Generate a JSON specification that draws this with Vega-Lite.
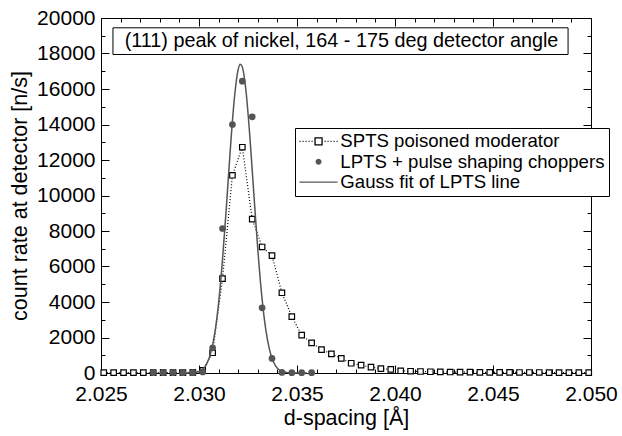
{
  "$schema": "https://vega.github.io/schema/vega-lite/v6.json",
  "width": 490,
  "height": 355,
  "autosize": {"type": "none"},
  "padding": {"left": 101, "top": 18, "right": 31, "bottom": 63},
  "background": "white",
  "config": {
    "view": {"stroke": null},
    "font": "Liberation Sans",
    "axis": {
      "labelFont": "Liberation Sans", "labelFontSize": 21, "labelColor": "black",
      "titleFont": "Liberation Sans", "titleFontSize": 21.5, "titleFontWeight": "normal", "titleColor": "black",
      "domainColor": "black", "domainWidth": 1, "tickColor": "black", "tickWidth": 1, "grid": false, "labelFlush": false
    }
  },
  "datasets": {
    "spts": [
      {"d": 2.02514, "v": 20}, {"d": 2.025645, "v": 20}, {"d": 2.02615, "v": 20}, {"d": 2.026655, "v": 20},
      {"d": 2.02716, "v": 20}, {"d": 2.027665, "v": 20}, {"d": 2.02817, "v": 20}, {"d": 2.028675, "v": 20},
      {"d": 2.02918, "v": 20}, {"d": 2.029685, "v": 40}, {"d": 2.03019, "v": 150}, {"d": 2.030695, "v": 1140},
      {"d": 2.0312, "v": 5320}, {"d": 2.031705, "v": 11140}, {"d": 2.03221, "v": 12720}, {"d": 2.032715, "v": 8670},
      {"d": 2.03322, "v": 7100}, {"d": 2.033725, "v": 6610}, {"d": 2.03423, "v": 4520}, {"d": 2.034735, "v": 3180},
      {"d": 2.03524, "v": 2130}, {"d": 2.035745, "v": 1700}, {"d": 2.03625, "v": 1320}, {"d": 2.036755, "v": 1080},
      {"d": 2.03726, "v": 820}, {"d": 2.037765, "v": 550}, {"d": 2.03827, "v": 440}, {"d": 2.038775, "v": 330},
      {"d": 2.03928, "v": 250}, {"d": 2.039785, "v": 200}, {"d": 2.04029, "v": 125}, {"d": 2.040795, "v": 100},
      {"d": 2.0413, "v": 85}, {"d": 2.041805, "v": 70}, {"d": 2.04231, "v": 60}, {"d": 2.042815, "v": 55},
      {"d": 2.04332, "v": 50}, {"d": 2.043825, "v": 45}, {"d": 2.04433, "v": 40}, {"d": 2.044835, "v": 40},
      {"d": 2.04534, "v": 35}, {"d": 2.045845, "v": 35}, {"d": 2.04635, "v": 30}, {"d": 2.046855, "v": 30},
      {"d": 2.04736, "v": 30}, {"d": 2.047865, "v": 25}, {"d": 2.04837, "v": 25}, {"d": 2.048875, "v": 25},
      {"d": 2.04938, "v": 20}, {"d": 2.049885, "v": 20}
    ],
    "lpts": [
      {"d": 2.027665, "v": 20}, {"d": 2.02817, "v": 20}, {"d": 2.028675, "v": 20}, {"d": 2.02918, "v": 20},
      {"d": 2.029685, "v": 30}, {"d": 2.03019, "v": 60}, {"d": 2.030695, "v": 1420}, {"d": 2.0312, "v": 8140},
      {"d": 2.031705, "v": 14000}, {"d": 2.03221, "v": 16440}, {"d": 2.032715, "v": 14430}, {"d": 2.03322, "v": 3670},
      {"d": 2.033725, "v": 820}, {"d": 2.03423, "v": 30}, {"d": 2.034735, "v": 20}, {"d": 2.03524, "v": 20},
      {"d": 2.035745, "v": 20}
    ],
    "gauss": [
      {"d": 2.0290, "v": 0}, {"d": 2.0294, "v": 3}, {"d": 2.0296, "v": 9}, {"d": 2.0298, "v": 30},
      {"d": 2.0300, "v": 85}, {"d": 2.0302, "v": 222}, {"d": 2.0304, "v": 525}, {"d": 2.0306, "v": 1131},
      {"d": 2.0308, "v": 2213}, {"d": 2.0310, "v": 3944}, {"d": 2.0312, "v": 6389}, {"d": 2.0314, "v": 9417},
      {"d": 2.0316, "v": 12634}, {"d": 2.0318, "v": 15416}, {"d": 2.0320, "v": 17105}, {"d": 2.0321, "v": 17390},
      {"d": 2.0322, "v": 17268}, {"d": 2.0324, "v": 15858}, {"d": 2.0326, "v": 13247}, {"d": 2.0328, "v": 10069},
      {"d": 2.0330, "v": 6958}, {"d": 2.0332, "v": 4374}, {"d": 2.0334, "v": 2504}, {"d": 2.0336, "v": 1303},
      {"d": 2.0338, "v": 616}, {"d": 2.0340, "v": 266}, {"d": 2.0342, "v": 104}, {"d": 2.0344, "v": 37},
      {"d": 2.0346, "v": 12}, {"d": 2.0348, "v": 4}, {"d": 2.0355, "v": 0}
    ]
  },
  "resolve": {"axis": {"x": "independent", "y": "independent"}},
  "layer": [
    {
      "data": {"values": [{}]},
      "mark": {"type": "rect", "fill": "white", "stroke": "black", "strokeWidth": 1},
      "encoding": {
        "x": {"datum": 2.02561, "type": "quantitative", "scale": {"domain": [2.025, 2.05], "nice": false, "zero": false},
              "axis": {"orient": "top", "values": [2.026, 2.027, 2.028, 2.029, 2.031, 2.032, 2.033, 2.034, 2.036, 2.037, 2.038, 2.039, 2.041, 2.042, 2.043, 2.044, 2.046, 2.047, 2.048, 2.049], "tickSize": -4, "labels": false, "domain": false, "title": null}},
        "x2": {"datum": 2.04883},
        "y": {"datum": 19448, "type": "quantitative", "scale": {"domain": [0, 20000], "nice": false},
              "axis": {"orient": "right", "values": [1000, 3000, 5000, 7000, 9000, 11000, 13000, 15000, 17000, 19000], "tickSize": -4, "labels": false, "domain": false, "title": null}},
        "y2": {"datum": 17944}
      }
    },
    {
      "data": {"values": [{}]},
      "mark": {"type": "text", "text": "(111) peak of nickel, 164 - 175 deg detector angle", "font": "Liberation Sans", "fontSize": 19.8, "color": "black", "align": "center", "baseline": "middle"},
      "encoding": {
        "x": {"datum": 2.03727, "type": "quantitative", "axis": null},
        "y": {"datum": 18693, "type": "quantitative", "axis": null}
      }
    },
    {
      "data": {"name": "spts"},
      "mark": {"type": "line", "color": "black", "strokeWidth": 1.2, "strokeDash": [1, 2], "strokeCap": "butt"},
      "encoding": {
        "x": {"field": "d", "type": "quantitative",
              "axis": {"orient": "bottom", "values": [2.025, 2.03, 2.035, 2.04, 2.045, 2.05], "format": ".3f", "ticks": false, "labelPadding": 10, "domain": true, "title": "d-spacing [Å]", "titlePadding": 3}},
        "y": {"field": "v", "type": "quantitative",
              "axis": {"orient": "left", "values": [0, 2000, 4000, 6000, 8000, 10000, 12000, 14000, 16000, 18000, 20000], "format": "d", "ticks": false, "labelPadding": 6, "domain": true, "title": "count rate at detector [n/s]", "titlePadding": 5}}
      }
    },
    {
      "data": {"name": "spts"},
      "mark": {"type": "point", "shape": "square", "filled": false, "fill": "white", "stroke": "black", "size": 30, "strokeWidth": 1.2, "opacity": 1},
      "encoding": {
        "x": {"field": "d", "type": "quantitative",
              "axis": {"orient": "bottom", "values": [2.025, 2.03, 2.035, 2.04, 2.045, 2.05], "tickSize": -8, "labels": false, "domain": false, "title": null}},
        "y": {"field": "v", "type": "quantitative",
              "axis": {"orient": "left", "values": [0, 2000, 4000, 6000, 8000, 10000, 12000, 14000, 16000, 18000, 20000], "tickSize": -8, "labels": false, "domain": false, "title": null}}
      }
    },
    {
      "data": {"name": "lpts"},
      "mark": {"type": "point", "shape": "circle", "filled": true, "fill": "#555555", "size": 45, "opacity": 1, "strokeWidth": 0},
      "encoding": {
        "x": {"field": "d", "type": "quantitative",
              "axis": {"orient": "bottom", "values": [2.026, 2.027, 2.028, 2.029, 2.031, 2.032, 2.033, 2.034, 2.036, 2.037, 2.038, 2.039, 2.041, 2.042, 2.043, 2.044, 2.046, 2.047, 2.048, 2.049], "tickSize": -4, "labels": false, "domain": false, "title": null}},
        "y": {"field": "v", "type": "quantitative",
              "axis": {"orient": "left", "values": [1000, 3000, 5000, 7000, 9000, 11000, 13000, 15000, 17000, 19000], "tickSize": -4, "labels": false, "domain": false, "title": null}}
      }
    },
    {
      "data": {"name": "gauss"},
      "mark": {"type": "line", "color": "#555555", "strokeWidth": 1.5, "interpolate": "monotone"},
      "encoding": {
        "x": {"field": "d", "type": "quantitative",
              "axis": {"orient": "top", "values": [2.025, 2.03, 2.035, 2.04, 2.045, 2.05], "tickSize": -8, "labels": false, "domain": true, "title": null}},
        "y": {"field": "v", "type": "quantitative",
              "axis": {"orient": "right", "values": [0, 2000, 4000, 6000, 8000, 10000, 12000, 14000, 16000, 18000, 20000], "tickSize": -8, "labels": false, "domain": true, "title": null}}
      }
    },
    {
      "data": {"values": []},
      "mark": {"type": "point", "filled": true, "opacity": 1, "size": 100, "strokeWidth": 1.3},
      "encoding": {
        "x": {"field": "d", "type": "quantitative", "axis": null},
        "y": {"field": "v", "type": "quantitative", "axis": null},
        "shape": {"field": "series", "type": "nominal",
                  "scale": {"domain": ["SPTS poisoned moderator", "LPTS + pulse shaping choppers", "Gauss fit of LPTS line"],
                            "range": ["M-3.8,0h0.2M-3.2,0h0.2M-2.6,0h0.2M-2,0h0.2M-1.4,0h0.2M1.2,0h0.2M1.8,0h0.2M2.4,0h0.2M3,0h0.2M3.6,0h0.2M-0.7,-0.7h1.4v1.4h-1.4z",
                                      "M0.6,0A0.6,0.6,0,1,1,-0.6,0A0.6,0.6,0,1,1,0.6,0Z",
                                      "M-3.8,0H3.8"]},
                  "legend": {
                    "title": null, "orient": "none", "legendX": 194, "legendY": 110,
                    "padding": 4, "strokeColor": "black", "fillColor": "white",
                    "labelFont": "Liberation Sans", "labelFontSize": 18.6, "labelColor": "black", "labelLimit": 0,
                    "symbolOffset": 10.25, "labelOffset": 12.5, "rowPadding": 1.4,
                    "symbolSize": 100, "symbolStrokeWidth": 1.3, "symbolOpacity": 1
                  }},
        "fill": {"field": "series", "type": "nominal",
                 "scale": {"domain": ["SPTS poisoned moderator", "LPTS + pulse shaping choppers", "Gauss fit of LPTS line"],
                           "range": ["white", "#555555", "transparent"]},
                 "legend": {
                    "title": null, "orient": "none", "legendX": 194, "legendY": 110,
                    "padding": 4, "strokeColor": "black", "fillColor": "white",
                    "labelFont": "Liberation Sans", "labelFontSize": 18.6, "labelColor": "black", "labelLimit": 0,
                    "symbolOffset": 10.25, "labelOffset": 12.5, "rowPadding": 1.4,
                    "symbolSize": 100, "symbolStrokeWidth": 1.3, "symbolOpacity": 1
                  }},
        "stroke": {"field": "series", "type": "nominal",
                   "scale": {"domain": ["SPTS poisoned moderator", "LPTS + pulse shaping choppers", "Gauss fit of LPTS line"],
                             "range": ["black", "transparent", "#555555"]},
                   "legend": {
                    "title": null, "orient": "none", "legendX": 194, "legendY": 110,
                    "padding": 4, "strokeColor": "black", "fillColor": "white",
                    "labelFont": "Liberation Sans", "labelFontSize": 18.6, "labelColor": "black", "labelLimit": 0,
                    "symbolOffset": 10.25, "labelOffset": 12.5, "rowPadding": 1.4,
                    "symbolSize": 100, "symbolStrokeWidth": 1.3, "symbolOpacity": 1
                  }}
      }
    }
  ]
}
